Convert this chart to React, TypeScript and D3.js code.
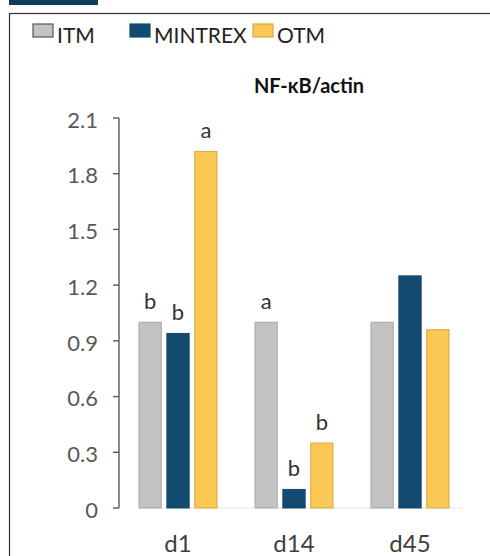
import React from "react";
import * as d3 from "d3";

const categories = ["d1", "d14", "d45"];
const seriesNames = ["ITM", "MINTREX", "OTM"];
const itm = [1.0, 1.0, 1.0];
const mintrex = [0.94, 0.1, 1.25];
const otm = [1.92, 0.35, 0.96];
const letters = [
  ["b", "b", "a"],
  ["a", "b", "b"],
  ["", "", ""],
];
const yTicks = [0, 0.3, 0.6, 0.9, 1.2, 1.5, 1.8, 2.1];

const fills = ["#c3c3c3", "#134a70", "#fbc856"];
const strokes = ["#a8a8a8", "#134a70", "#d9a840"];

export default function App() {
  const W = 490, H = 556;
  const x = d3.scaleBand().domain(categories).range([120, 468]).paddingInner(0).paddingOuter(0);
  const y = d3.scaleLinear().domain([0, 2.1]).range([508, 118]);
  const inner = d3.scaleBand().domain(seriesNames).range([0, 78]).paddingInner(0.2);
  const values = [itm, mintrex, otm];
  const font = "Lato, 'Open Sans', sans-serif";
  const groupOffset = (x.bandwidth() - 78) / 2;

  return (
    <svg width={W} height={H} style={{ position: "absolute", left: 0, top: 0 }} fontFamily={font}>
      <rect x={0} y={0} width={W} height={H} fill="#ffffff" />
      <rect x={9} y={0} width={89} height={5} fill="#0e3d60" />
      <rect x={9.5} y={13.5} width={W} height={H} fill="none" stroke="#333" strokeWidth={1.2} />
      {/* legend */}
      {seriesNames.map((s, i) => {
        const lx = [33, 130, 253][i];
        return (
          <g key={s}>
            <rect x={lx} y={24} width={20} height={13} fill={fills[i]} stroke={i === 0 ? "#555" : strokes[i]} strokeWidth={1.2} />
            <text x={lx + 24} y={43} fontSize={21} fill="#222">{s}</text>
          </g>
        );
      })}
      <text x={309} y={93} textAnchor="middle" fontSize={20} fontWeight="bold" fill="#111">NF-κB/actin</text>
      {/* y axis */}
      <line x1={119} x2={119} y1={y(2.1)} y2={y(0)} stroke="#595959" strokeWidth={1.4} />
      {yTicks.map((t) => (
        <g key={t}>
          <line x1={113} x2={119} y1={y(t)} y2={y(t)} stroke="#595959" strokeWidth={1.4} />
          <text x={98} y={y(t) + 2} dy="0.35em" textAnchor="end" fontSize={22} fill="#595959">{d3.format("")(t)}</text>
        </g>
      ))}
      <line x1={140} x2={463} y1={y(0)} y2={y(0)} stroke="#e6e6e6" strokeWidth={1} />
      {/* bars */}
      {categories.map((c, ci) => (
        <g key={c}>
          {seriesNames.map((s, si) => {
            const bx = (x(c) as number) + groupOffset + (inner(s) as number);
            const v = values[si][ci];
            return (
              <g key={s}>
                <rect x={bx} y={y(v)} width={inner.bandwidth()} height={y(0) - y(v)} fill={fills[si]} stroke={strokes[si]} strokeWidth={1} />
                {letters[ci][si] && (
                  <text x={bx + inner.bandwidth() / 2} y={y(v) - 13} textAnchor="middle" fontSize={22} fill="#333">{letters[ci][si]}</text>
                )}
              </g>
            );
          })}
          <text x={(x(c) as number) + x.bandwidth() / 2} y={552} textAnchor="middle" fontSize={24} fill="#404040">{c}</text>
        </g>
      ))}
    </svg>
  );
}
